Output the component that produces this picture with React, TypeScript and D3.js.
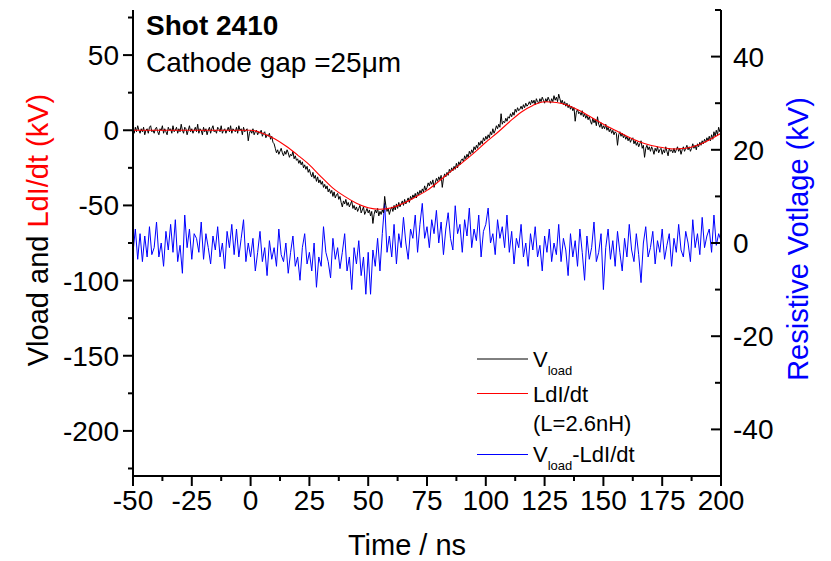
import React from "react";
import * as d3 from "d3";

// Sampling of the recorded traces (ns)
const T0 = -50;
const DT_LOAD = 0.5;
const DT_RES = 1;

// Vload (kV), left axis, sampled every 0.5 ns from -50 to 200 ns
const vload: number[] = [
  1, -2, 2, -1, 3, 0, -2, 1, -1, 2, -3, 0, 1, -2, 2, 3, -1, 0, -2, 1,
  2, -1, -3, 1, 0, 3, -2, 1, -1, -3, 2, 0, 1, -2, 3, -1, 0, 2, -2, 1,
  -1, 4, 0, -2, 2, 1, -3, 0, 3, -1, 1, -2, 0, 2, -1, 4, -2, 1, 0, -3,
  2, -1, 1, -3, 0, 2, -2, 1, 3, -1, 0, -2, 2, 1, -1, 3, -2, 0, 1, -2,
  0, 2, -1, 3, -2, 1, 0, -1, 2, -2, 3, 0, 1, -3, 2, -1, 0, 1, -7, -2,
  0, -2, 1, -3, -1, 0, -3, -1, -2, 0, -4, -2, -1, -5, -3, -4, -2, -6, -4, -8,
  -9, -12, -15, -13, -16, -14, -12, -15, -17, -14, -16, -13, -15, -18, -16, -17, -14, -19, -17, -20,
  -19, -22, -20, -23, -21, -25, -23, -26, -24, -28, -26, -29, -31, -28, -32, -30, -34, -31, -35, -33,
  -36, -34, -38, -36, -39, -37, -41, -39, -42, -40, -44, -41, -45, -43, -42, -46, -44, -48, -51, -47,
  -49, -46, -50, -48, -51, -49, -47, -52, -50, -53, -51, -54, -52, -50, -55, -53, -51, -56, -54, -52,
  -55, -53, -57, -54, -62, -56, -53, -55, -52, -57, -54, -56, -53, -55, -44, -50, -54, -52, -56, -53,
  -51, -54, -50, -53, -49, -52, -48, -51, -49, -47, -50, -46, -49, -47, -45, -48, -44, -46, -43, -45,
  -42, -45, -41, -43, -40, -42, -39, -41, -37, -40, -38, -35, -37, -34, -36, -33, -38, -35, -32, -34,
  -31, -33, -30, -38, -32, -29, -31, -28, -30, -26, -28, -25, -27, -24, -26, -22, -25, -21, -23, -20,
  -19, -21, -17, -19, -16, -18, -14, -16, -13, -15, -11, -13, -10, -12, -8, -10, -7, -9, -5, -7,
  -4, -6, -3, -5, -1, -3, 1, -2, 0, 3, 1, 4, 2, 11, 4, 6, 5, 8, 6, 9,
  8, 11, 9, 12, 10, 14, 12, 15, 13, 14, 16, 14, 17, 15, 18, 16, 17, 19, 17, 20,
  18, 20, 17, 21, 19, 18, 21, 19, 22, 20, 18, 21, 19, 22, 20, 18, 21, 19, 23, 20,
  22, 19, 24, 21, 18, 20, 17, 19, 16, 18, 15, 17, 14, 16, 13, 15, 6, 12, 14, 11,
  12, 10, 13, 9, 11, 8, 10, 7, 9, 6, 4, 8, 5, 7, 3, 9, 4, 2, 5, 1,
  3, 1, 4, 0, 2, -1, 1, -2, 0, -3, -1, -2, -10, -3, -1, -4, -2, -5, -3, -6,
  -4, -7, -5, -8, -6, -5, -9, -7, -10, -8, -11, -9, -7, -12, -10, -18, -12, -10, -13, -11,
  -14, -11, -13, -16, -12, -14, -11, -15, -13, -12, -16, -13, -15, -11, -14, -17, -12, -14, -13, -15,
  -12, -15, -13, -11, -14, -12, -16, -13, -11, -14, -12, -10, -13, -11, -14, -12, -9, -12, -10, -13,
  -9, -11, -8, -10, -7, -9, -6, -8, -5, -7, -4, -7, -3, -6, -1, -4, 0, -3, 2, -1,
  1,
];

// L dI/dt (kV), left axis, every 5 ns from -50 to 200 ns
const ldidtStep = 5;
const ldidt: number[] = [
  0, 0, 0, 0, 0, 0, 0, 0, 0, 0,
  0, -2, -5.5, -10.5, -16.5, -23, -31, -38.5, -44, -48.5,
  -51.5, -52.5, -51.5, -48.5, -44.5, -40, -34, -27.5, -21.5, -15,
  -8, -1.5, 5.5, 12, 16.5, 19, 18.5, 16.5, 13, 8.5,
  4, 0, -4, -7.5, -10, -11.5, -12.5, -12, -10, -6.5,
  -2,
];

// Vload - L dI/dt (kV), right axis, one sample per ns from -50 to 200 ns
const resistive: number[] = [
  -2, 3, -3.5, 2, -4, 1.5, -3, 3.5, -2.5, -1,
  4.5, -3, 0, -5, 2.5, -1.5, 4, -2, 5, -4,
  -0.5, -6.5, 6, -1, 3, -3.5, 2, 1, -2, 4.5,
  -3.5, 2, -1, -4.5, 1.5, -1.5, 3.5, -3, 0, -5.5,
  2.5, -1, 4, -2.5, 3, -3, 1, 5, -4, 0,
  -3, 1, -6, -2, 2.5, -4, -1, -7, 0.5, -3.5,
  -1, -5, 3, -2.5, -4, 0, -6.5, -2, 1.5, -5,
  -3, -8, -1, 2, -4.5, -2, -6, 0, -9.5, -3,
  -5, 3.5, -2, -4, -7.5, 1, -3.5, -1, -5.5, -2,
  2, -6, -3, -10, -1, -4.5, 0.5, -7, -3, -11,
  -2, -11, -1.5, -5, 1, -6, 2, 8.5, -2, 1.5,
  -3, 4, -4.5, 2, -1, 5.5, 0, -3.5, 3, 1,
  6, -2, 4, 8.5, 1, 3.5, -1, 5, 2, 7,
  0, 4.5, -2.5, 3, 6.5, 1, -1.5, 8, 2, 4,
  -2, 5, 1.5, 7.5, -1, 3, 0.5, 6, -3, 2.5,
  4, 7.5, 0, 2, -2.5, 5, 1, 3.5, -1, 6,
  -2, 2.5, -4.5, 1, -1, 4, -3, 0, -5, 2,
  -1.5, 3.5, -3, -0.5, -6, 1.5, -2, 3, -4, 0,
  -2.5, 4, -4, 1, -1.5, -7, 2, -3, 0.5, -5,
  3, -2, -8, 1.5, -3.5, -1, 4.5, -4, -2, 2,
  -10, -1, 3, -3.5, 0.5, -5, 2.5, -2, -6, 1,
  -3, 4, -1.5, -4, 2, -2.5, -8.5, 0, 3.5, -3,
  -1, 2.5, -4.5, 0.5, -2, 3, -3.5, -0.5, 2, -5,
  1, -2, 4, -1.5, -3, 2.5, 0, -4, 5, -1,
  2, -2.5, 5.5, -1, 1.5, 3, -2, 6, -0.5, 2,
  0.5,
];

const xTicks = [-50, -25, 0, 25, 50, 75, 100, 125, 150, 175, 200];
const leftTicks = [-200, -150, -100, -50, 0, 50];
const rightTicks = [-40, -20, 0, 20, 40];

const W = 831;
const H = 561;
const plot = { left: 133, right: 721, top: 10, bottom: 476 };
const FONT = "Arial, 'Liberation Sans', sans-serif";

export default function App() {
  const x = d3.scaleLinear().domain([-50, 200]).range([plot.left, plot.right]);
  const yL = d3.scaleLinear().domain([-230, 80]).range([plot.bottom, plot.top]);
  const yR = d3.scaleLinear().domain([-50, 50]).range([plot.bottom, plot.top]);

  const lineL = d3
    .line<number>()
    .x((_, i) => x(T0 + i * DT_LOAD))
    .y((v) => yL(v));
  const lineSmooth = d3
    .line<number>()
    .x((_, i) => x(T0 + i * ldidtStep))
    .y((v) => yL(v))
    .curve(d3.curveMonotoneX);
  const lineR = d3
    .line<number>()
    .x((_, i) => x(T0 + i * DT_RES))
    .y((v) => yR(v));

  const xMinor = d3.range(-50, 200.01, 12.5).filter((t) => !xTicks.includes(t));
  const leftMinor = d3.range(-225, 80, 25).filter((v) => !leftTicks.includes(v));
  const rightMinor = d3.range(-50, 50.01, 10).filter((v) => !rightTicks.includes(v));

  const majorLen = 10;
  const minorLen = 5;

  return (
    <svg
      width={W}
      height={H}
      style={{ position: "absolute", left: 0, top: 0, background: "#fff" }}
      fontFamily={FONT}
    >
      <rect x={0} y={0} width={W} height={H} fill="#fff" />

      {/* traces */}
      <path d={lineR(resistive) ?? ""} fill="none" stroke="#0000ff" strokeWidth={1} />
      <path d={lineL(vload) ?? ""} fill="none" stroke="#000" strokeWidth={1} />
      <path d={lineSmooth(ldidt) ?? ""} fill="none" stroke="#ff0000" strokeWidth={1.1} />

      {/* axis lines */}
      <g stroke="#000" strokeWidth={2} fill="none">
        <line x1={plot.left} x2={plot.left} y1={plot.top} y2={plot.bottom + 1} />
        <line x1={plot.right} x2={plot.right} y1={plot.top} y2={plot.bottom + 1} />
        <line x1={plot.left - 1} x2={plot.right + 1} y1={plot.bottom} y2={plot.bottom} />
      </g>

      {/* ticks */}
      <g stroke="#000" strokeWidth={2}>
        {xTicks.map((t) => (
          <line key={"xm" + t} x1={x(t)} x2={x(t)} y1={plot.bottom} y2={plot.bottom + majorLen} />
        ))}
        {xMinor.map((t) => (
          <line key={"xn" + t} x1={x(t)} x2={x(t)} y1={plot.bottom} y2={plot.bottom + minorLen} />
        ))}
        {leftTicks.map((v) => (
          <line key={"lm" + v} x1={plot.left - majorLen} x2={plot.left} y1={yL(v)} y2={yL(v)} />
        ))}
        {leftMinor.map((v) => (
          <line key={"ln" + v} x1={plot.left - minorLen} x2={plot.left} y1={yL(v)} y2={yL(v)} />
        ))}
        {rightTicks.map((v) => (
          <line key={"rm" + v} x1={plot.right - majorLen} x2={plot.right} y1={yR(v)} y2={yR(v)} />
        ))}
        {rightMinor.map((v) => (
          <line key={"rn" + v} x1={plot.right - minorLen - 1} x2={plot.right} y1={yR(v)} y2={yR(v)} />
        ))}
      </g>

      {/* tick labels */}
      <g fontSize={28} fill="#000">
        {xTicks.map((t) => (
          <text key={"xl" + t} x={x(t)} y={510} textAnchor="middle">
            {String(t)}
          </text>
        ))}
        {leftTicks.map((v) => (
          <text key={"ll" + v} x={119} y={yL(v) + 10} textAnchor="end">
            {String(v)}
          </text>
        ))}
        {rightTicks.map((v) => (
          <text key={"rl" + v} x={733} y={yR(v) + 10} textAnchor="start">
            {String(v)}
          </text>
        ))}
      </g>

      {/* axis titles */}
      <text x={407} y={555} fontSize={29} textAnchor="middle">
        Time / ns
      </text>
      <text transform="translate(48,230) rotate(-90)" fontSize={29} textAnchor="middle">
        <tspan fill="#000">Vload and </tspan>
        <tspan fill="#ff0000">LdI/dt (kV)</tspan>
      </text>
      <text transform="translate(808,239) rotate(-90)" fontSize={29} textAnchor="middle" fill="#0000ff">
        Resistive Votlage (kV)
      </text>

      {/* annotations */}
      <text x={146} y={35} fontSize={28} fontWeight="bold">
        Shot 2410
      </text>
      <text x={146} y={72} fontSize={28}>
        Cathode gap =25μm
      </text>

      {/* legend */}
      <g fontSize={22}>
        <line x1={477} x2={528} y1={359} y2={359} stroke="#000" strokeWidth={1} />
        <text x={533} y={367}>
          V<tspan fontSize={13} dy={8}>load</tspan>
        </text>
        <line x1={477} x2={528} y1={393.5} y2={393.5} stroke="#ff0000" strokeWidth={1} />
        <text x={533} y={402}>LdI/dt</text>
        <text x={533} y={431}>(L=2.6nH)</text>
        <line x1={477} x2={528} y1={454.5} y2={454.5} stroke="#0000ff" strokeWidth={1} />
        <text x={533} y={462}>
          V<tspan fontSize={13} dy={8}>load</tspan>
          <tspan dy={-8}>-LdI/dt</tspan>
        </text>
      </g>
    </svg>
  );
}
